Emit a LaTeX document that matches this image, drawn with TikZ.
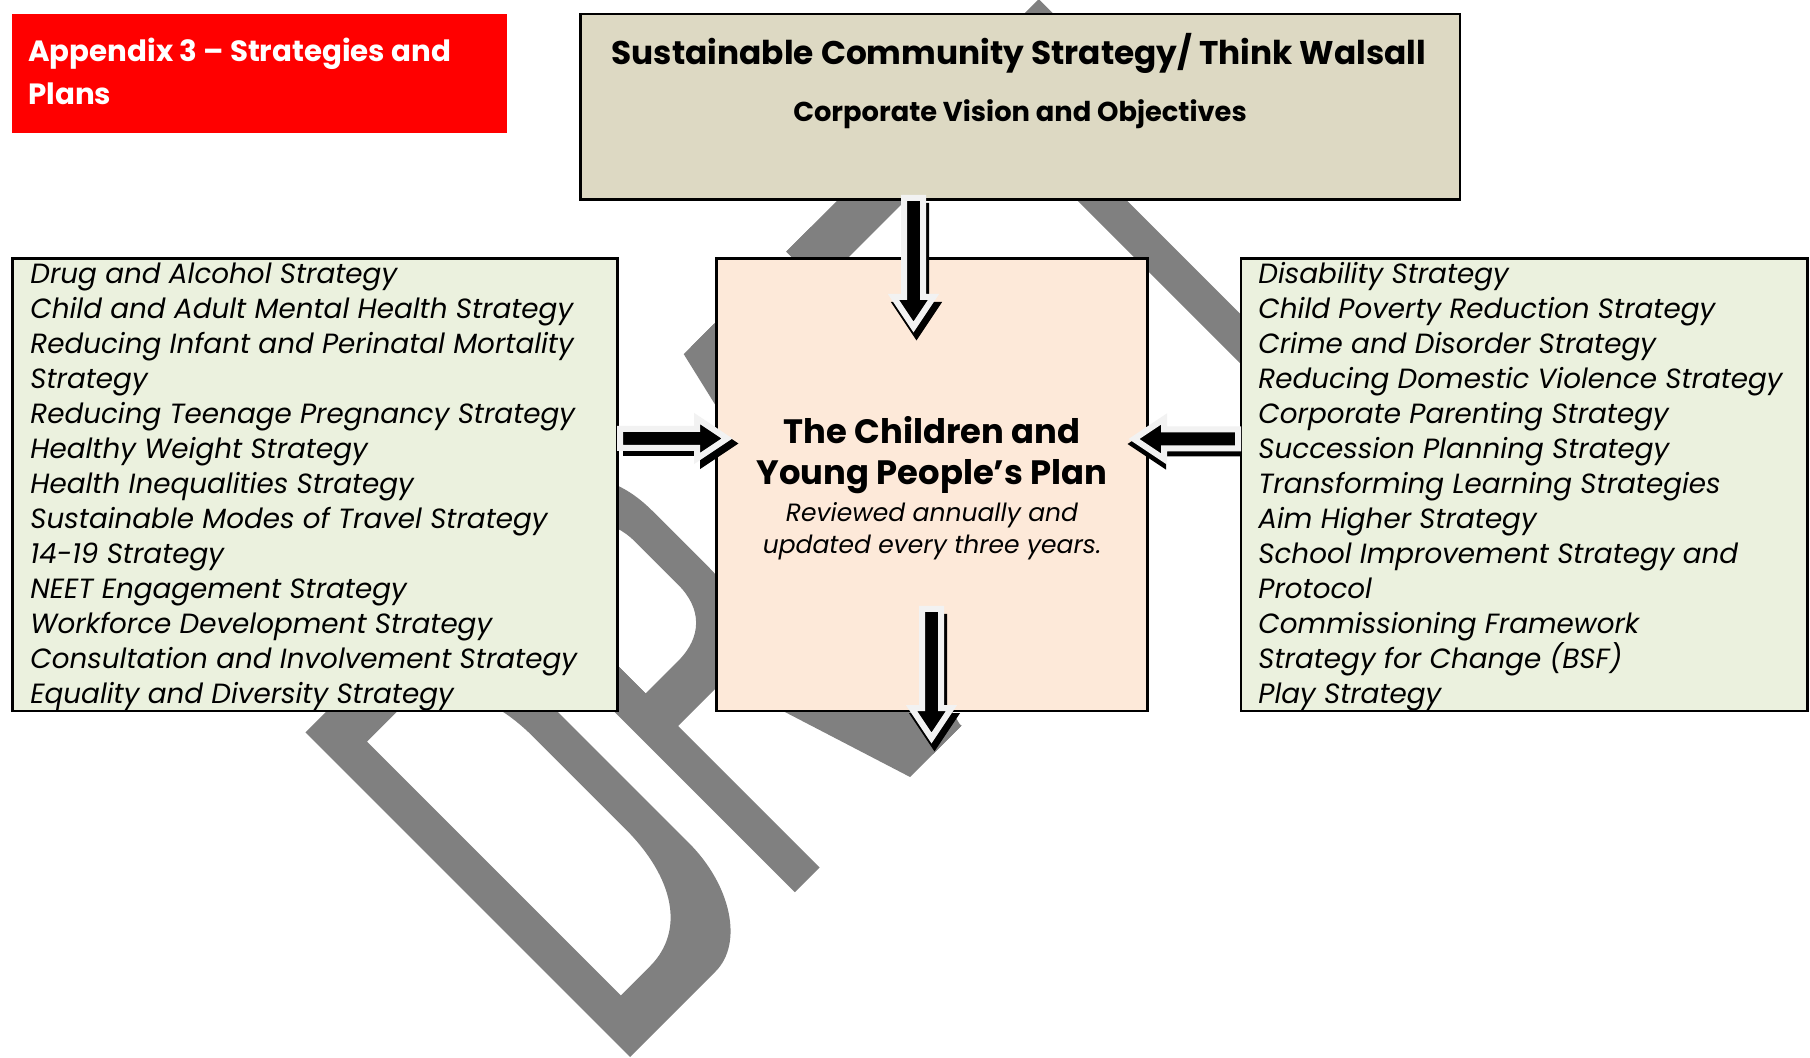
\documentclass[tikz,border=0pt]{standalone}
\usepackage{fontspec}
\setmainfont{Poppins}
\usetikzlibrary{calc}

\definecolor{wmgray}{HTML}{808080}
\definecolor{titlered}{HTML}{FF0000}
\definecolor{headfill}{HTML}{DDD9C3}
\definecolor{listfill}{HTML}{EBF1DE}
\definecolor{planfill}{HTML}{FDE9D9}
\definecolor{rim}{HTML}{F2F2F2}

\tikzset{
  panel/.style={draw=black, line width=1.35pt, inner sep=0pt, outer sep=0pt, anchor=north west},
  listtext/.style={anchor=base west, inner sep=0pt, font=\fontsize{13.9}{17.5}\selectfont\itshape},
  arrowbody/.style={fill=black, draw=rim, line width=3pt, line join=miter},
  arrowshadow/.style={fill=black, draw=black, line width=3pt, line join=miter},
  wm/.style={fill=wmgray, even odd rule},
}

% outline of a block arrow pointing along +x, #1 = length
\newcommand\arrowoutline[1]{(0,-9.5) -- (#1-30,-9.5) -- (#1-30,-20) -- (#1,0) -- (#1-30,20) -- (#1-30,9.5) -- (0,9.5) -- cycle}
% #1 start, #2 direction, #3 length, #4 shadow offset
\newcommand\blockarrow[4]{%
  \begin{scope}[shift={($#1+#4$)}, rotate=#2]
    \path[arrowshadow] \arrowoutline{#3};
  \end{scope}
  \begin{scope}[shift={#1}, rotate=#2]
    \path[arrowbody] \arrowoutline{#3};
  \end{scope}}

\begin{document}
\begin{tikzpicture}[x=0.5pt, y=0.5pt]
\fill[white] (0,0) rectangle (1810,-1058);
\useasboundingbox (0,0) rectangle (1810,-1058);

% ---- DRAFT watermark (letters drawn in a rotated frame, baseline up-right)
\begin{scope}[shift={(630,-1057)}, rotate=45]
  % D
  \fill[wm] (0,0) -- (121,0) .. controls (160,0) and (193,49) .. (193,110)
        -- (193,349) .. controls (193,410) and (160,459) .. (121,459) -- (0,459) -- cycle
        (37,50) -- (78,50) .. controls (128,50) and (158,95) .. (158,165)
        -- (158,294) .. controls (158,364) and (128,409) .. (78,409) -- (37,409) -- cycle;
  % R
  \fill[wm] (233,0) rectangle (268,459);
  \fill[wm] (250,459) -- (322,459) .. controls (376,459) and (402,425) .. (402,370)
        -- (402,290) .. controls (402,235) and (370,200) .. (320,200) -- (250,200) -- cycle
        (268,411) -- (316,411) .. controls (350,411) and (368,395) .. (368,360)
        -- (368,300) .. controls (368,266) and (348,246) .. (314,246) -- (268,246) -- cycle;
  \fill[wm] (328,215) -- (401,215) -- (469,0) -- (396,0) -- cycle;
  % A
  \fill[wm] (428,0) -- (468,0) -- (578,459) -- (535,459) -- cycle;
  \fill[wm] (545,459) -- (588,459) -- (697,0) -- (657,0) -- cycle;
  \fill[wm] (480,120) rectangle (645,165);
  % F
  \fill[wm] (680,0) rectangle (715,459);
  \fill[wm] (680,411) rectangle (825,459);
  \fill[wm] (680,220) rectangle (800,265);
  % T
  \fill[wm] (843,411) rectangle (1037,459);
  \fill[wm] (922,0) rectangle (957,459);
\end{scope}

% ---- panels
\node[panel, draw=none, fill=titlered, minimum width=247.5pt, minimum height=59.5pt] (apx) at (12,-14) {};
\node[panel, fill=headfill, minimum width=439.7pt, minimum height=92.9pt] (top) at (580.6,-13.9) {};
\node[panel, fill=listfill, minimum width=302.45pt, minimum height=226.2pt] (left) at (12.7,-258.6) {};
\node[panel, fill=planfill, minimum width=215.3pt, minimum height=226.2pt] (center) at (716.8,-258.6) {};
\node[panel, fill=listfill, minimum width=283.35pt, minimum height=226.2pt] (right) at (1240.9,-258.6) {};

% ---- block arrows between the panels
\coordinate (arrTop) at ($(top.south)+(-106.8,1.7)$);
\coordinate (arrLeft) at ($(left.east)+(2.4,46.3)$);
\coordinate (arrRight) at ($(right.west)+(-2.9,45.8)$);
\coordinate (arrDown) at ($(center.south)+(-0.6,102)$);
\blockarrow{(arrTop)}{-90}{129}{(3,-8)}
\blockarrow{(arrLeft)}{0}{107}{(6,-5)}
\blockarrow{(arrRight)}{180}{104}{(-1,-5)}
\blockarrow{(arrDown)}{-90}{129}{(3,-8)}

% ---- texts
\node[anchor=base west, inner sep=0pt, text=white, font=\fontsize{14.65}{21.5}\selectfont\bfseries] (apxA) at (28,-62) {Appendix 3 – Strategies and};
\node[anchor=base west, inner sep=0pt, text=white, font=\fontsize{14.65}{21.5}\selectfont\bfseries] (apxB) at (28,-105) {Plans};

\node[anchor=base, inner sep=0pt, font=\fontsize{16.4}{19}\selectfont\bfseries] (sct) at (1019,-65) {Sustainable Community Strategy/ Think Walsall};
\node[anchor=base, inner sep=0pt, font=\fontsize{13.65}{16}\selectfont\bfseries] (cvo) at (1020,-121.7) {Corporate Vision and Objectives};

\node[anchor=base, inner sep=0pt, font=\fontsize{16.9}{20}\selectfont\bfseries] (cyp1) at (932,-443.3) {The Children and};
\node[anchor=base, inner sep=0pt, font=\fontsize{16.9}{20}\selectfont\bfseries] (cyp2) at (932,-485) {Young People’s Plan};
\node[anchor=base, inner sep=0pt, font=\fontsize{12.5}{15}\selectfont\itshape] (rev1) at (932,-521.7) {Reviewed annually and};
\node[anchor=base, inner sep=0pt, font=\fontsize{12.5}{15}\selectfont\itshape] (rev2) at (932,-553.3) {updated every three years.};

\foreach \t [count=\i] in {Drug and Alcohol Strategy, Child and Adult Mental Health Strategy,
  Reducing Infant and Perinatal Mortality, Strategy, Reducing Teenage Pregnancy Strategy,
  Healthy Weight Strategy, Health Inequalities Strategy, Sustainable Modes of Travel Strategy,
  14-19 Strategy, NEET Engagement Strategy, Workforce Development Strategy,
  Consultation and Involvement Strategy, Equality and Diversity Strategy}
  \node[listtext] (L\i) at (30,-283.3-35*\i+35) {\t};

\foreach \t [count=\i] in {Disability Strategy, Child Poverty Reduction Strategy,
  Crime and Disorder Strategy, Reducing Domestic Violence Strategy, Corporate Parenting Strategy,
  Succession Planning Strategy, Transforming Learning Strategies, Aim Higher Strategy,
  School Improvement Strategy and, Protocol, Commissioning Framework,
  Strategy for Change (BSF), Play Strategy}
  \node[listtext] (R\i) at (1258,-283.3-35*\i+35) {\t};
\end{tikzpicture}
\end{document}
